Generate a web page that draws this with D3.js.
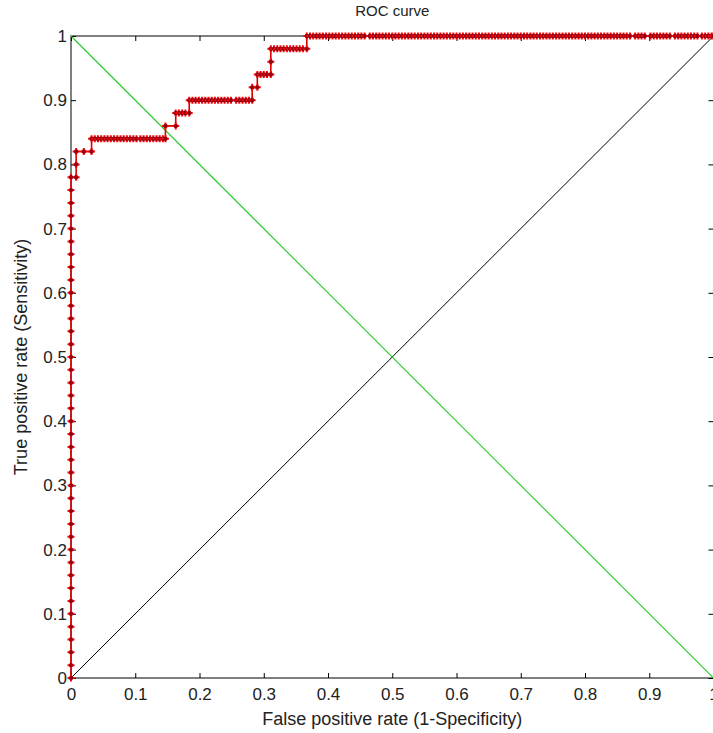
<!DOCTYPE html>
<html>
<head>
<meta charset="utf-8">
<script src="https://cdn.jsdelivr.net/npm/d3@7"></script>
<style>
  body { margin: 0; background: #fff; }
  svg { display: block; font-family: "Liberation Sans", Arial, sans-serif; }
</style>
</head>
<body>
<script>
// ROC points lying on the y axis (fpr = 0)
const axisColumnTpr = [0, 0.02, 0.04, 0.06, 0.08, 0.10, 0.12, 0.14, 0.16, 0.18,
  0.20, 0.22, 0.24, 0.26, 0.28, 0.30, 0.32, 0.34, 0.36, 0.38,
  0.40, 0.42, 0.44, 0.46, 0.48, 0.50, 0.52, 0.54, 0.56, 0.58,
  0.60, 0.62, 0.64, 0.66, 0.68, 0.70, 0.72, 0.74, 0.76];

// remaining ROC points, one row per sensitivity level
const rowTpr = [0.78, 0.80, 0.82, 0.84, 0.86, 0.88, 0.90, 0.92, 0.94, 0.96, 0.98, 1.0];
const rowFpr = [
  [0, 0.008],
  [0.008],
  [0.008, 0.020, 0.032],
  [0.032, 0.037, 0.042, 0.047, 0.052, 0.057, 0.062, 0.067, 0.072, 0.077, 0.082, 0.087,
   0.092, 0.097, 0.102, 0.108, 0.113, 0.118, 0.123, 0.128, 0.133, 0.138, 0.143, 0.147],
  [0.147, 0.163],
  [0.163, 0.168, 0.173, 0.178, 0.184],
  [0.184, 0.189, 0.194, 0.199, 0.204, 0.209, 0.214, 0.219, 0.224, 0.229, 0.234, 0.239,
   0.244, 0.249, 0.257, 0.262, 0.267, 0.272, 0.277, 0.282],
  [0.282, 0.290],
  [0.290, 0.295, 0.300, 0.305, 0.311],
  [0.311],
  [0.311, 0.316, 0.321, 0.326, 0.331, 0.336, 0.341, 0.346, 0.351, 0.356, 0.361, 0.367],
  [0.367, 0.372, 0.377, 0.382, 0.387, 0.392, 0.397, 0.402, 0.407, 0.412, 0.417, 0.422,
   0.427, 0.432, 0.437, 0.442, 0.447, 0.452, 0.457,
   0.465, 0.470, 0.475, 0.480, 0.485,
   0.490, 0.495, 0.500, 0.505, 0.510, 0.515, 0.520, 0.525, 0.530, 0.535, 0.540, 0.545,
   0.550, 0.555, 0.560, 0.565, 0.570, 0.575, 0.580, 0.585, 0.590, 0.595, 0.600, 0.605,
   0.610, 0.615, 0.620, 0.625, 0.630, 0.635, 0.640, 0.645, 0.650, 0.655, 0.660, 0.665,
   0.670, 0.675, 0.680,
   0.685, 0.690, 0.695, 0.700, 0.705, 0.710, 0.715, 0.720, 0.725, 0.730, 0.735, 0.740,
   0.745, 0.750, 0.755, 0.760, 0.765, 0.770, 0.775, 0.780, 0.785, 0.790, 0.795, 0.800,
   0.805, 0.810, 0.815, 0.820, 0.825, 0.830, 0.835, 0.840, 0.845, 0.850, 0.855, 0.860,
   0.865, 0.870,
   0.878, 0.883, 0.888, 0.893,
   0.902, 0.907, 0.912, 0.917, 0.922, 0.927, 0.932,
   0.940, 0.945, 0.950, 0.955, 0.960, 0.965, 0.970, 0.975,
   0.982, 0.987, 0.992, 0.997, 1.0]
];

const tickValues = [0, 0.1, 0.2, 0.3, 0.4, 0.5, 0.6, 0.7, 0.8, 0.9, 1];
const tickLabels = ["0", "0.1", "0.2", "0.3", "0.4", "0.5", "0.6", "0.7", "0.8", "0.9", "1"];

const W = 713, H = 733;
const margin = { top: 36, right: -0.5, bottom: 55, left: 71 };
const innerW = W - margin.left - margin.right;
const innerH = H - margin.top - margin.bottom;

const x = d3.scaleLinear().domain([0, 1]).range([0, innerW]);
const y = d3.scaleLinear().domain([0, 1]).range([innerH, 0]);

// build the point list in drawing order
const points = axisColumnTpr.map(t => [0, t]);
rowTpr.forEach((t, i) => rowFpr[i].forEach(f => points.push([f, t])));

const svg = d3.select('body').append('svg')
  .attr('width', W)
  .attr('height', H);

const g = svg.append('g')
  .attr('transform', 'translate(' + margin.left + ',' + margin.top + ')');

const fmt = d => tickLabels[tickValues.indexOf(d)];

// axes, ticks pointing inward
g.append('g')
  .attr('transform', 'translate(0,' + innerH + ')')
  .call(d3.axisBottom(x).tickValues(tickValues).tickFormat(fmt)
    .tickSizeInner(-5).tickSizeOuter(0).tickPadding(10));
g.append('g')
  .call(d3.axisLeft(y).tickValues(tickValues).tickFormat(fmt)
    .tickSizeInner(-5).tickSizeOuter(0).tickPadding(4));
g.append('g')
  .call(d3.axisTop(x).tickValues(tickValues).tickFormat('')
    .tickSizeInner(-5).tickSizeOuter(0));
g.append('g')
  .attr('transform', 'translate(' + innerW + ',0)')
  .call(d3.axisRight(y).tickValues(tickValues).tickFormat('')
    .tickSizeInner(-5).tickSizeOuter(0));

g.selectAll('.domain').remove();
g.selectAll('.tick line').attr('stroke', '#000');
g.selectAll('.tick text')
  .attr('fill', '#222')
  .style('font-size', '17px')
  .style('font-family', '"Liberation Sans", Arial, sans-serif');

// plot box
g.append('rect')
  .attr('x', 0).attr('y', 0)
  .attr('width', innerW).attr('height', innerH)
  .attr('fill', 'none')
  .attr('stroke', '#000')
  .attr('stroke-width', 1);

// reference diagonals
g.append('line')
  .attr('x1', x(0)).attr('y1', y(0))
  .attr('x2', x(1)).attr('y2', y(1))
  .attr('stroke', '#000').attr('stroke-width', 1);
g.append('line')
  .attr('x1', x(0)).attr('y1', y(1))
  .attr('x2', x(1)).attr('y2', y(0))
  .attr('stroke', '#22cc22').attr('stroke-width', 1.1);

// ROC curve
const line = d3.line().x(d => x(d[0])).y(d => y(d[1]));
g.append('path')
  .datum(points)
  .attr('d', line)
  .attr('fill', 'none')
  .attr('stroke', '#d80000')
  .attr('stroke-width', 1.6);

const marks = g.append('g').selectAll('g')
  .data(points)
  .join('g')
  .attr('transform', d => 'translate(' + x(d[0]) + ',' + y(d[1]) + ')');
marks.append('path')
  .attr('d', 'M-3.5,0H3.5M0,-3.5V3.5')
  .attr('stroke', '#ff0a0a')
  .attr('stroke-width', 2);
marks.append('circle')
  .attr('r', 2.2)
  .attr('fill', '#9a0010');

// title and axis labels
svg.append('text')
  .attr('x', margin.left + innerW / 2)
  .attr('y', 16)
  .attr('text-anchor', 'middle')
  .style('font-size', '15px')
  .attr('fill', '#222')
  .text('ROC curve');

svg.append('text')
  .attr('x', margin.left + innerW / 2)
  .attr('y', 725)
  .attr('text-anchor', 'middle')
  .style('font-size', '18px')
  .attr('fill', '#222')
  .text('False positive rate (1-Specificity)');

svg.append('text')
  .attr('transform', 'translate(27,' + (margin.top + innerH / 2) + ') rotate(-90)')
  .attr('text-anchor', 'middle')
  .style('font-size', '18px')
  .attr('fill', '#222')
  .text('True positive rate (Sensitivity)');
</script>
</body>
</html>
